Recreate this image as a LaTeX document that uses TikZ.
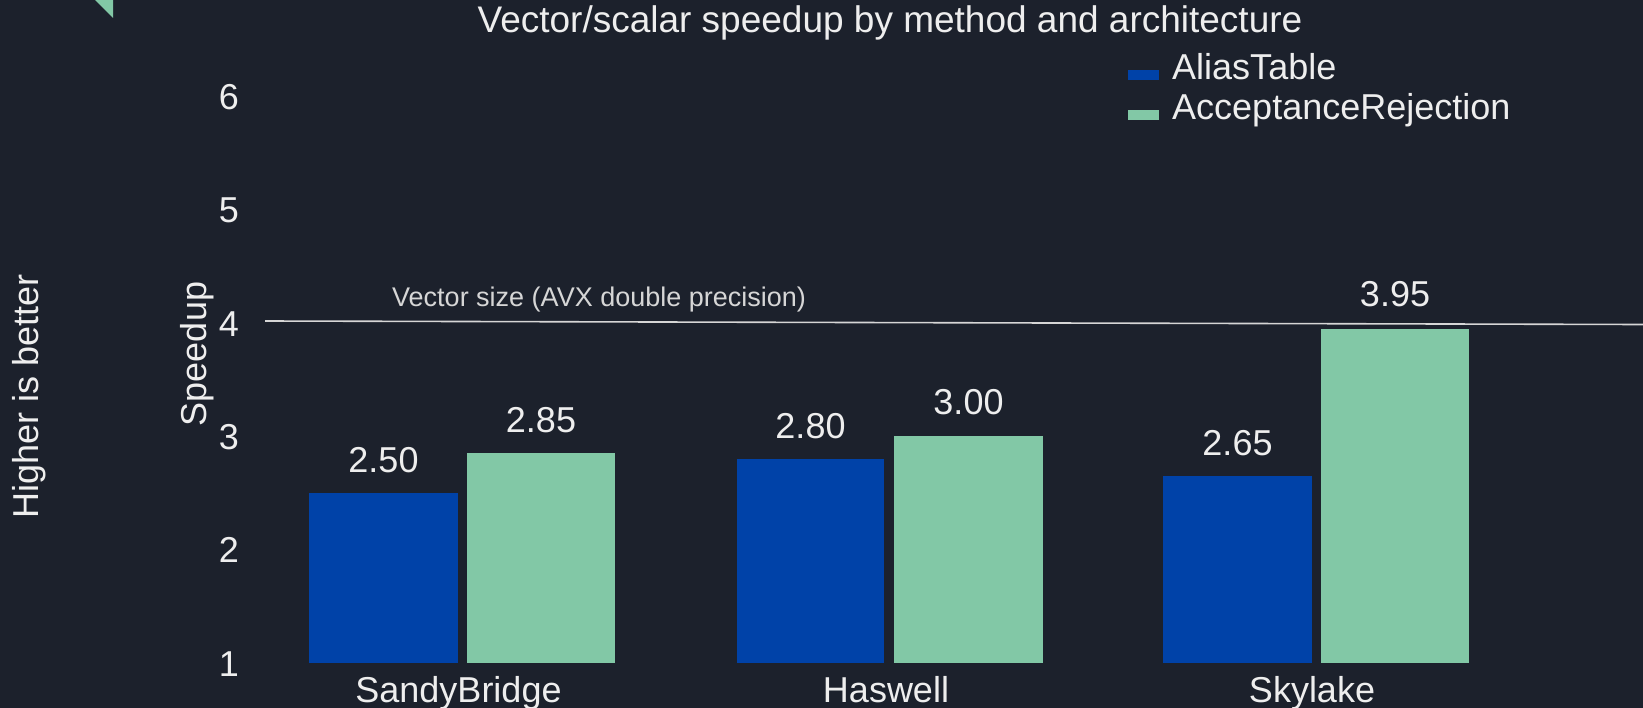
\documentclass[tikz,border=0pt]{standalone}
\usepackage{fontspec}
\setmainfont{Liberation Sans}
\definecolor{bg}{HTML}{1C212C}
\definecolor{aliasblue}{HTML}{0042A8}
\definecolor{accgreen}{HTML}{82C8A6}
\definecolor{txt}{HTML}{EEEEEE}
\definecolor{linegray}{HTML}{D6D6D6}
\begin{document}
\begin{tikzpicture}[x=1bp,y=-1bp,
  lbl/.style={text=txt,inner sep=0pt,font=\fontsize{36bp}{43bp}\selectfont},
  small/.style={text=linegray,inner sep=0pt,font=\fontsize{27bp}{32bp}\selectfont},
  aliasbar/.style={fill=aliasblue},
  accbar/.style={fill=accgreen}]
\fill[bg] (0,0) rectangle (1643,708);
\useasboundingbox (0,0) rectangle (1643,708);
% corner triangle
\fill[accgreen] (95,0) -- (113,0) -- (113,18) -- cycle;
% title
\node[lbl,anchor=base,font=\fontsize{37bp}{44bp}\selectfont] (title) at (890,33) {Vector/scalar speedup by method and architecture};
% legend
\fill[aliasblue] (1128,70) rectangle (1159,80);
\node[lbl,anchor=base west] (legA) at (1172,80) {AliasTable};
\fill[accgreen] (1128,110) rectangle (1159,120);
\node[lbl,anchor=base west] (legB) at (1172,120) {AcceptanceRejection};
% y ticks
\foreach \v/\yy in {6/96.3,5/209.7,4/323,3/436.3,2/549.7,1/663}{
  \node[lbl,anchor=base east] (tick\v) at (239,\yy+13) {\v};
}
% axis labels
\node[lbl,rotate=90,anchor=center] (ylab) at (197,354) {Speedup};
\node[lbl,rotate=90,anchor=center] (hib) at (29,396) {Higher is better};
% reference line
\coordinate (refL) at (265,321);
\coordinate (refR) at (1643,324.5);
\draw[linegray,line width=1.6bp] (refL) -- (refR);
\node[small,anchor=base west] (reftxt) at (392,306) {Vector size (AVX double precision)};
% bars
\fill[aliasbar] (309,492.7) rectangle (458,663);
\fill[accbar] (467,453) rectangle (615,663);
\fill[aliasbar] (737,459) rectangle (884,663);
\fill[accbar] (894,436.3) rectangle (1043,663);
\fill[aliasbar] (1163,476) rectangle (1312,663);
\fill[accbar] (1321,328.7) rectangle (1469,663);
% values
\node[lbl,anchor=base] (v1) at (383.5,472.7) {2.50};
\node[lbl,anchor=base] (v2) at (541,432) {2.85};
\node[lbl,anchor=base] (v3) at (810.5,438) {2.80};
\node[lbl,anchor=base] (v4) at (968.5,414) {3.00};
\node[lbl,anchor=base] (v5) at (1237.5,455) {2.65};
\node[lbl,anchor=base] (v6) at (1395,306.5) {3.95};
% categories
\node[lbl,anchor=base] (c1) at (458.5,702) {SandyBridge};
\node[lbl,anchor=base] (c2) at (886,702) {Haswell};
\node[lbl,anchor=base] (c3) at (1312,702) {Skylake};
\end{tikzpicture}
\end{document}
